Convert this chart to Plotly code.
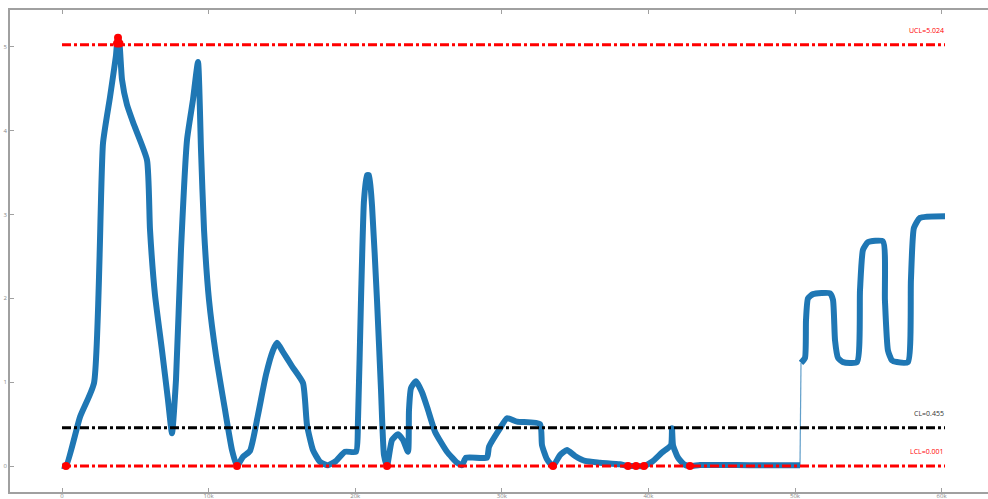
import plotly.graph_objects as go

# ---- data ----
x_values = [0, 273, 1228, 2183, 2797, 3274, 3683, 3752, 3820, 3922, 4093, 4434, 4911, 5798,
            6003, 6344, 6821, 7230, 7503, 7776, 8117, 8527, 8936, 9277, 9482, 9687, 10027,
            10505, 11119, 11596, 11937, 12347, 12824, 13370, 13916, 14393, 14666, 15075,
            15689, 16439, 16712, 17121, 17598, 18144, 18690, 19304, 20054, 20191, 20395,
            20600, 20805, 20941, 21146, 21487, 21760, 21964, 22169, 22510, 22920, 23261,
            23602, 23670, 23806, 24148, 24557, 24966, 25443, 26262, 26944, 27285, 27558,
            28990, 29127, 29877, 30355, 31037, 32606, 32742, 33083, 33492, 33970, 34447,
            34993, 35675, 36698, 38062, 38608, 39154, 39700, 40246, 40928, 41542, 41610,
            41678, 42019, 42428, 42838, 43520, 46930, 50341,
            50409, 50682, 50750, 50887, 51228, 52387, 52592, 52729, 52933, 53274, 54229,
            54434, 54638, 54979, 55998, 56134, 56339, 56612, 56953, 57703, 57908, 58112,
            58522, 60232]
y_values = [0.003, 0, 0.585, 0.99, 3.85, 4.40, 4.90, 5.04, 5.11, 5.04, 4.61, 4.31, 4.07, 3.65,
            2.82, 2.04, 1.38, 0.79, 0.39, 1.03, 2.58, 3.89, 4.37, 4.82, 3.77, 2.82, 1.98,
            1.32, 0.67, 0.19, 0, 0.11, 0.18, 0.61, 1.09, 1.38, 1.47, 1.36,
            1.19, 0.99, 0.49, 0.19, 0.05, 0.01, 0.06, 0.17, 0.17, 0.55, 1.98,
            3.17, 3.47, 3.47, 3.11, 1.98, 0.91, 0.13, 0, 0.31, 0.38, 0.31,
            0.17, 0.67, 0.93, 1.01, 0.88, 0.67, 0.41, 0.17, 0.04, 0.01, 0.10,
            0.10, 0.23, 0.45, 0.57, 0.53, 0.50, 0.25, 0.08, 0, 0.13, 0.19,
            0.12, 0.06, 0.04, 0.02, 0, 0, 0, 0.05, 0.16, 0.25, 0.45,
            0.25, 0.10, 0.02, 0, 0.012, 0.01, 0.01,
            1.23, 1.29, 1.74, 2.00, 2.05, 2.06, 1.98, 1.50, 1.29, 1.24, 1.24,
            2.10, 2.58, 2.67, 2.68, 1.98, 1.38, 1.26, 1.24, 1.24, 2.22, 2.84,
            2.96, 2.98]
jump_after = 99  # index of the last point before the thin jump segment

UCL = 5.024
CL = 0.455
LCL = 0.001
limit_names = ["UCL", "CL", "LCL"]
limit_values = [UCL, CL, LCL]
limit_colors = ["#ff0000", "#000000", "#ff0000"]

x_ticks = [0, 10000, 20000, 30000, 40000, 50000, 60000]
y_ticks = [0, 1, 2, 3, 4, 5]

# ---- figure ----
blue = "#1f77b4"
fig = go.Figure()

# thick series, broken at the jump
xs = x_values[:jump_after + 1] + [None] + x_values[jump_after + 1:]
ys = y_values[:jump_after + 1] + [None] + y_values[jump_after + 1:]
fig.add_trace(go.Scatter(x=xs, y=ys, mode="lines", connectgaps=False,
                         line=dict(color=blue, width=6, shape="spline", smoothing=0.5),
                         hoverinfo="skip"))
# thin jump connector
fig.add_trace(go.Scatter(x=x_values[jump_after:jump_after + 2],
                         y=y_values[jump_after:jump_after + 2], mode="lines",
                         line=dict(color=blue, width=1.2), opacity=0.7))

# control limit lines
x0, x1 = x_values[0], x_values[-1]
for name, val, col in zip(limit_names, limit_values, limit_colors):
    fig.add_trace(go.Scatter(x=[x0, x1], y=[val, val], mode="lines",
                             line=dict(color=col, width=3, dash="dashdot")))
    fig.add_annotation(x=x1, y=val, text=f"{name}={val:g}", showarrow=False,
                       xanchor="right", yanchor="bottom", yshift=8, xshift=1,
                       font=dict(size=7, color=col if col != "#000000" else "#333333",
                                 family="Open Sans"))

# out-of-control points
ox = [x for x, y in zip(x_values, y_values) if y > UCL or y < LCL]
oy = [y for y in y_values if y > UCL or y < LCL]
fig.add_trace(go.Scatter(x=ox, y=oy, mode="markers",
                         marker=dict(color="#ff0000", size=8)))

axis_common = dict(showgrid=False, zeroline=False, showline=True, linecolor="#a0a0a0",
                   linewidth=1.5, ticks="inside", ticklen=4, tickcolor="#a0a0a0",
                   tickfont=dict(size=6, color="#888888", family="Open Sans"),
                   automargin=False)

fig.update_layout(
    width=988, height=499,
    margin=dict(l=10, r=0, t=10, b=7),
    paper_bgcolor="white", plot_bgcolor="white",
    showlegend=False,
    xaxis=dict(range=[-3547, 63165], tickvals=x_ticks, mirror="ticks",
               ticklabelstandoff=-3, **axis_common),
    yaxis=dict(range=[-0.31, 5.44], tickvals=y_ticks, mirror=False, **axis_common),
)

fig.write_html("out.html", config={"displayModeBar": False},
               post_script="document.body.style.margin='0';")
